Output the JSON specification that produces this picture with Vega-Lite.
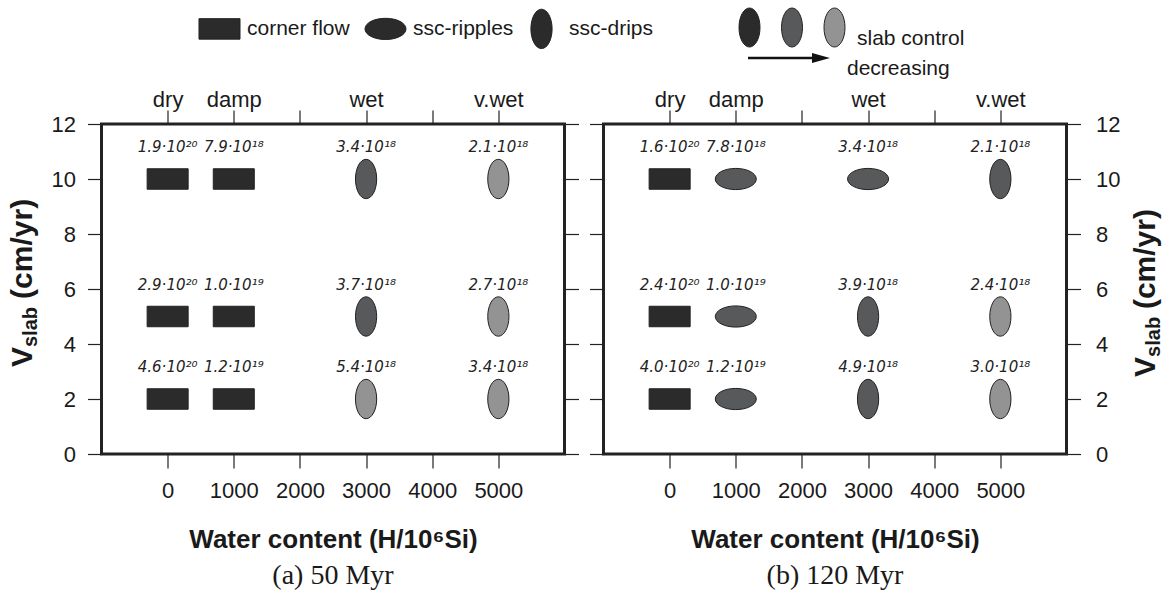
{
  "$schema": "https://vega.github.io/schema/vega-lite/v6.json",
  "autosize": {"type": "none"},
  "padding": {"left": 101.5, "top": 124, "right": 1064.5, "bottom": 469},
  "background": "white",
  "bounds": "flush",
  "spacing": 39,
  "config": {
    "font": "Liberation Sans",
    "view": {"stroke": "#222222", "strokeWidth": 3},
    "axis": {"domain": false, "grid": false, "tickColor": "#222222", "tickWidth": 1.2, "tickSize": 14, "labelColor": "#1a1a1a", "labelFontSize": 22, "labelFont": "Liberation Sans", "titleColor": "#1a1a1a", "titleFont": "Liberation Sans"}
  },
  "datasets": {
    "a": [
      {"water": 0, "vslab": 10, "regime": "corner flow", "level": "strong", "label": "1.9·10²⁰"},
      {"water": 1000, "vslab": 10, "regime": "corner flow", "level": "strong", "label": "7.9·10¹⁸"},
      {"water": 3000, "vslab": 10, "regime": "ssc-drips", "level": "medium", "label": "3.4·10¹⁸"},
      {"water": 5000, "vslab": 10, "regime": "ssc-drips", "level": "weak", "label": "2.1·10¹⁸"},
      {"water": 0, "vslab": 5, "regime": "corner flow", "level": "strong", "label": "2.9·10²⁰"},
      {"water": 1000, "vslab": 5, "regime": "corner flow", "level": "strong", "label": "1.0·10¹⁹"},
      {"water": 3000, "vslab": 5, "regime": "ssc-drips", "level": "medium", "label": "3.7·10¹⁸"},
      {"water": 5000, "vslab": 5, "regime": "ssc-drips", "level": "weak", "label": "2.7·10¹⁸"},
      {"water": 0, "vslab": 2, "regime": "corner flow", "level": "strong", "label": "4.6·10²⁰"},
      {"water": 1000, "vslab": 2, "regime": "corner flow", "level": "strong", "label": "1.2·10¹⁹"},
      {"water": 3000, "vslab": 2, "regime": "ssc-drips", "level": "weak", "label": "5.4·10¹⁸"},
      {"water": 5000, "vslab": 2, "regime": "ssc-drips", "level": "weak", "label": "3.4·10¹⁸"}
    ],
    "b": [
      {"water": 0, "vslab": 10, "regime": "corner flow", "level": "strong", "label": "1.6·10²⁰"},
      {"water": 1000, "vslab": 10, "regime": "ssc-ripples", "level": "medium", "label": "7.8·10¹⁸"},
      {"water": 3000, "vslab": 10, "regime": "ssc-ripples", "level": "medium", "label": "3.4·10¹⁸"},
      {"water": 5000, "vslab": 10, "regime": "ssc-drips", "level": "medium", "label": "2.1·10¹⁸"},
      {"water": 0, "vslab": 5, "regime": "corner flow", "level": "strong", "label": "2.4·10²⁰"},
      {"water": 1000, "vslab": 5, "regime": "ssc-ripples", "level": "medium", "label": "1.0·10¹⁹"},
      {"water": 3000, "vslab": 5, "regime": "ssc-drips", "level": "medium", "label": "3.9·10¹⁸"},
      {"water": 5000, "vslab": 5, "regime": "ssc-drips", "level": "weak", "label": "2.4·10¹⁸"},
      {"water": 0, "vslab": 2, "regime": "corner flow", "level": "strong", "label": "4.0·10²⁰"},
      {"water": 1000, "vslab": 2, "regime": "ssc-ripples", "level": "medium", "label": "1.2·10¹⁹"},
      {"water": 3000, "vslab": 2, "regime": "ssc-drips", "level": "medium", "label": "4.9·10¹⁸"},
      {"water": 5000, "vslab": 2, "regime": "ssc-drips", "level": "weak", "label": "3.0·10¹⁸"}
    ]
  },
  "resolve": {"legend": {"shape": "independent", "fill": "independent"}},
  "hconcat": [
    {
      "width": 463,
      "height": 330,
      "title": {"text": "(a) 50 Myr", "orient": "bottom", "font": "Liberation Serif", "fontSize": 28, "fontWeight": "normal", "color": "#1a1a1a", "offset": 10},
      "resolve": {"axis": {"x": "independent", "y": "independent"}},
      "layer": [
        {
          "data": {"name": "a"},
          "mark": {"type": "point", "filled": true, "opacity": 1, "stroke": "#222222", "strokeWidth": 1, "size": 900},
          "encoding": {
            "x": {"field": "water", "type": "quantitative", "scale": {"domain": [-1000, 6000], "nice": false, "zero": false}, "axis": {"orient": "bottom", "values": [0, 1000, 2000, 3000, 4000, 5000], "format": "d", "labelPadding": 12, "title": "Water content (H/10⁶Si)", "titleFontSize": 26, "titleFontWeight": "bold", "titlePadding": 25}},
            "y": {"field": "vslab", "type": "quantitative", "scale": {"domain": [0, 12], "nice": false, "zero": false}, "axis": {"orient": "left", "values": [0, 2, 4, 6, 8, 10, 12], "labelPadding": 12, "title": null}},
            "shape": {"field": "regime", "type": "nominal", "scale": {"domain": ["corner flow", "ssc-ripples", "ssc-drips"], "range": ["M0,-1.313M0,1.313M-1.367,-0.683L1.367,-0.683L1.367,0.683L-1.367,0.683Z", "M0,-1.313M0,1.313M-1.367,0A1.367,0.707 0 1,0 1.367,0A1.367,0.707 0 1,0 -1.367,0Z", "M0,-1.313A0.707,1.313 0 1,0 0,1.313A0.707,1.313 0 1,0 0,-1.313Z"]}, "legend": null},
            "fill": {"field": "level", "type": "nominal", "scale": {"domain": ["strong", "medium", "weak"], "range": ["#2b2b2b", "#58595b", "#939393"]}, "legend": null}
          }
        },
        {
          "data": {"name": "a"},
          "mark": {"type": "text", "font": "DejaVu Sans", "fontStyle": "italic", "fontSize": 15, "dy": -27, "baseline": "alphabetic", "color": "#222222"},
          "encoding": {
            "x": {"field": "water", "type": "quantitative", "axis": {"orient": "top", "values": [0, 1000, 2000, 3000, 4000, 5000], "labelPadding": -1, "labelExpr": "datum.value == 0 ? 'dry' : datum.value == 1000 ? 'damp' : datum.value == 3000 ? 'wet' : datum.value == 5000 ? 'v.wet' : ''", "title": null}},
            "y": {"field": "vslab", "type": "quantitative", "axis": {"orient": "right", "values": [0, 2, 4, 6, 8, 10, 12], "labels": false, "title": null}},
            "text": {"field": "label"}
          }
        },
        {
          "data": {"values": [{}]},
          "mark": {"type": "text", "text": "V", "angle": 270, "align": "left", "baseline": "alphabetic", "fontWeight": "bold", "fontSize": 30, "color": "#1a1a1a"},
          "encoding": {"x": {"datum": -2051, "type": "quantitative", "axis": null}, "y": {"datum": 3.16, "type": "quantitative", "axis": null}}
        },
        {
          "data": {"values": [{}]},
          "mark": {"type": "text", "text": "slab", "angle": 270, "align": "left", "baseline": "alphabetic", "fontWeight": "bold", "fontSize": 20, "color": "#1a1a1a"},
          "encoding": {"x": {"datum": -1975, "type": "quantitative", "axis": null}, "y": {"datum": 3.89, "type": "quantitative", "axis": null}}
        },
        {
          "data": {"values": [{}]},
          "mark": {"type": "text", "text": "(cm/yr)", "angle": 270, "align": "left", "baseline": "alphabetic", "fontWeight": "bold", "fontSize": 30, "color": "#1a1a1a"},
          "encoding": {"x": {"datum": -2051, "type": "quantitative", "axis": null}, "y": {"datum": 5.64, "type": "quantitative", "axis": null}}
        }
      ]
    },
    {
      "width": 463,
      "height": 330,
      "title": {"text": "(b) 120 Myr", "orient": "bottom", "font": "Liberation Serif", "fontSize": 28, "fontWeight": "normal", "color": "#1a1a1a", "offset": 10},
      "resolve": {"axis": {"x": "independent", "y": "independent"}},
      "layer": [
        {
          "data": {"name": "b"},
          "mark": {"type": "point", "filled": true, "opacity": 1, "stroke": "#222222", "strokeWidth": 1, "size": 900},
          "encoding": {
            "x": {"field": "water", "type": "quantitative", "scale": {"domain": [-1000, 6000], "nice": false, "zero": false}, "axis": {"orient": "bottom", "values": [0, 1000, 2000, 3000, 4000, 5000], "format": "d", "labelPadding": 12, "title": "Water content (H/10⁶Si)", "titleFontSize": 26, "titleFontWeight": "bold", "titlePadding": 25}},
            "y": {"field": "vslab", "type": "quantitative", "scale": {"domain": [0, 12], "nice": false, "zero": false}, "axis": {"orient": "left", "values": [0, 2, 4, 6, 8, 10, 12], "labels": false, "title": null}},
            "shape": {"field": "regime", "type": "nominal", "scale": {"domain": ["corner flow", "ssc-ripples", "ssc-drips"], "range": ["M0,-1.313M0,1.313M-1.367,-0.683L1.367,-0.683L1.367,0.683L-1.367,0.683Z", "M0,-1.313M0,1.313M-1.367,0A1.367,0.707 0 1,0 1.367,0A1.367,0.707 0 1,0 -1.367,0Z", "M0,-1.313A0.707,1.313 0 1,0 0,1.313A0.707,1.313 0 1,0 0,-1.313Z"]}, "legend": {"orient": "none", "legendX": -399.5, "legendY": -111, "direction": "horizontal", "title": null, "symbolSize": 900, "symbolFillColor": "#2b2b2b", "symbolStrokeColor": "#222222", "symbolStrokeWidth": 1, "symbolOpacity": 1, "labelFont": "Liberation Sans", "labelFontSize": 21, "labelColor": "#1a1a1a", "labelOffset": 12, "columnPadding": 12, "padding": 0}},
            "fill": {"field": "level", "type": "nominal", "scale": {"domain": ["strong", "medium", "weak"], "range": ["#2b2b2b", "#58595b", "#939393"]}, "legend": {"orient": "none", "legendX": 133.5, "legendY": -109, "direction": "horizontal", "title": null, "symbolType": "M0,-1.625A0.875,1.625 0 1,0 0,1.625A0.875,1.625 0 1,0 0,-1.625Z", "symbolSize": 576, "symbolStrokeColor": "#222222", "symbolStrokeWidth": 1, "symbolOpacity": 1, "labelExpr": "datum.value == 'weak' ? 'slab control' : ''", "labelFont": "Liberation Sans", "labelFontSize": 21, "labelColor": "#1a1a1a", "labelOffset": 10, "labelBaseline": "top", "columnPadding": 7.5, "padding": 0}}
          }
        },
        {
          "data": {"name": "b"},
          "mark": {"type": "text", "font": "DejaVu Sans", "fontStyle": "italic", "fontSize": 15, "dy": -27, "baseline": "alphabetic", "color": "#222222"},
          "encoding": {
            "x": {"field": "water", "type": "quantitative", "axis": {"orient": "top", "values": [0, 1000, 2000, 3000, 4000, 5000], "labelPadding": -1, "labelExpr": "datum.value == 0 ? 'dry' : datum.value == 1000 ? 'damp' : datum.value == 3000 ? 'wet' : datum.value == 5000 ? 'v.wet' : ''", "title": null}},
            "y": {"field": "vslab", "type": "quantitative", "axis": {"orient": "right", "values": [0, 2, 4, 6, 8, 10, 12], "labelPadding": 15, "title": null}},
            "text": {"field": "label"}
          }
        },
        {
          "data": {"values": [{}]},
          "mark": {"type": "text", "text": "V", "angle": 270, "align": "left", "baseline": "alphabetic", "fontWeight": "bold", "fontSize": 30, "color": "#1a1a1a"},
          "encoding": {"x": {"datum": 7338, "type": "quantitative", "axis": null}, "y": {"datum": 2.8, "type": "quantitative", "axis": null}}
        },
        {
          "data": {"values": [{}]},
          "mark": {"type": "text", "text": "slab", "angle": 270, "align": "left", "baseline": "alphabetic", "fontWeight": "bold", "fontSize": 20, "color": "#1a1a1a"},
          "encoding": {"x": {"datum": 7414, "type": "quantitative", "axis": null}, "y": {"datum": 3.53, "type": "quantitative", "axis": null}}
        },
        {
          "data": {"values": [{}]},
          "mark": {"type": "text", "text": "(cm/yr)", "angle": 270, "align": "left", "baseline": "alphabetic", "fontWeight": "bold", "fontSize": 30, "color": "#1a1a1a"},
          "encoding": {"x": {"datum": 7338, "type": "quantitative", "axis": null}, "y": {"datum": 5.27, "type": "quantitative", "axis": null}}
        },
        {
          "data": {"values": [{}]},
          "mark": {"type": "rule", "strokeWidth": 2.5, "color": "#111111"},
          "encoding": {"x": {"datum": 1185, "type": "quantitative", "axis": null}, "x2": {"datum": 2167}, "y": {"datum": 14.4, "type": "quantitative", "axis": null}}
        },
        {
          "data": {"values": [{}]},
          "mark": {"type": "point", "shape": "M-1,-0.55L1,0L-1,0.55Z", "size": 324, "filled": true, "opacity": 1, "color": "#111111"},
          "encoding": {"x": {"datum": 2288, "type": "quantitative", "axis": null}, "y": {"datum": 14.4, "type": "quantitative", "axis": null}}
        },
        {
          "data": {"values": [{}]},
          "mark": {"type": "text", "text": "decreasing", "align": "left", "baseline": "alphabetic", "fontSize": 21, "color": "#1a1a1a"},
          "encoding": {"x": {"datum": 2681, "type": "quantitative", "axis": null}, "y": {"datum": 13.78, "type": "quantitative", "axis": null}}
        }
      ]
    }
  ]
}
